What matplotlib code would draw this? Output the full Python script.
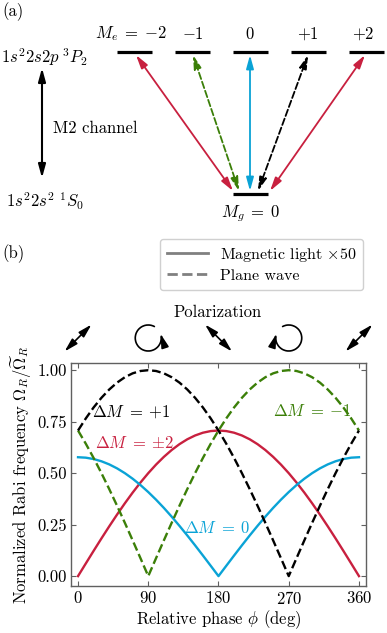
import numpy as np
import matplotlib
matplotlib.use('Agg')
import matplotlib.pyplot as plt
from matplotlib.patches import FancyArrowPatch
from matplotlib.path import Path
from matplotlib.lines import Line2D

plt.rcParams.update({
    'font.family': 'cmr10',
    'mathtext.fontset': 'cm',
    'axes.unicode_minus': False,
    'axes.formatter.use_mathtext': True,
    'font.size': 12,
})

# ---------------- data ----------------
phase_deg = [0, 10, 20, 30, 40, 50, 60, 70, 80, 90, 100, 110, 120, 130, 140, 150, 160, 170, 180,
             190, 200, 210, 220, 230, 240, 250, 260, 270, 280, 290, 300, 310, 320, 330, 340, 350, 360]
dm_pm2 = [0.0, .0616, .1228, .1830, .2418, .2988, .3536, .4056, .4545, .5000, .5417, .5792, .6124,
          .6409, .6645, .6830, .6964, .7044, .7071, .7044, .6964, .6830, .6645, .6409, .6124, .5792,
          .5417, .5000, .4545, .4056, .3536, .2988, .2418, .1830, .1228, .0616, 0.0]
dm_0 = [.5774, .5752, .5686, .5577, .5426, .5233, .5000, .4730, .4423, .4082, .3711, .3312, .2887,
        .2440, .1975, .1494, .1002, .0503, 0.0, .0503, .1002, .1494, .1975, .2440, .2887, .3312,
        .3711, .4082, .4423, .4730, .5000, .5233, .5426, .5577, .5686, .5752, .5774]
dm_p1 = [.7071, .7660, .8192, .8660, .9063, .9397, .9659, .9848, .9962, 1.0, .9962, .9848, .9659,
         .9397, .9063, .8660, .8192, .7660, .7071, .6428, .5736, .5000, .4226, .3420, .2588, .1736,
         .0872, 0.0, .0872, .1736, .2588, .3420, .4226, .5000, .5736, .6428, .7071]
dm_m1 = [.7071, .6428, .5736, .5000, .4226, .3420, .2588, .1736, .0872, 0.0, .0872, .1736, .2588,
         .3420, .4226, .5000, .5736, .6428, .7071, .7660, .8192, .8660, .9063, .9397, .9659, .9848,
         .9962, 1.0, .9962, .9848, .9659, .9397, .9063, .8660, .8192, .7660, .7071]
xticks = [0, 90, 180, 270, 360]
yticks = [0.0, 0.25, 0.50, 0.75, 1.00]
level_labels = [r'$M_e\;=\;{-}2$', r'${-}1$', r'$0$', r'${+}1$', r'${+}2$']
pol_phases = [0, 90, 180, 270, 360]
pol_kinds = ['lin+', 'ccw', 'lin-', 'cw', 'lin+']

RED = '#c8203f'
BLUE = '#0aa3d6'
GREEN = '#3b7f08'
BLACK = 'black'
SPINE = '#606060'

W, H = 387, 633
fig = plt.figure(figsize=(W / 100, H / 100), dpi=100)

# ---------------- panel (b) axes ----------------
ax = fig.add_axes([71 / W, 1 - 586 / H, (366 - 71) / W, (586 - 363) / H])
ax.plot(phase_deg, dm_pm2, color=RED, lw=1.7, zorder=3)
ax.plot(phase_deg, dm_0, color=BLUE, lw=1.7, zorder=3)
ax.plot(phase_deg, dm_m1, color=GREEN, lw=1.7, ls='--', zorder=4)
ax.plot(phase_deg, dm_p1, color=BLACK, lw=1.7, ls='--', zorder=5)
ax.set_xlim(-9, 369)
ax.set_ylim(-0.048, 1.035)
ax.set_xticks(xticks)
ax.set_yticks(yticks)
ax.set_yticklabels(['%.2f' % v for v in yticks])
ax.tick_params(direction='in', top=True, right=True, length=3.5, width=0.8, color=SPINE,
               pad=3)
for s in ax.spines.values():
    s.set_color(SPINE)
    s.set_linewidth(1.0)
ax.set_xlabel(r'Relative phase $\phi$ (deg)', labelpad=1)
ax.set_ylabel(r'Normalized Rabi frequency $\Omega_R/\widetilde{\Omega}_R$', labelpad=2)

ax.text(72, 0.645, r'$\Delta M\;=\;{\pm}2$', color=RED, ha='center', va='center')
ax.text(179, 0.235, r'$\Delta M\;=\;0$', color=BLUE, ha='center', va='center')
ax.text(68, 0.80, r'$\Delta M\;=\;{+}1$', color=BLACK, ha='center', va='center')
ax.text(300, 0.80, r'$\Delta M\;=\;{-}1$', color=GREEN, ha='center', va='center')

handles = [Line2D([], [], color='gray', lw=2, ls='-'),
           Line2D([], [], color='gray', lw=2, ls='--')]
ax.legend(handles, [r'Magnetic light $\times 50$', 'Plane wave'],
          loc='lower center', bbox_to_anchor=(261.5 / W, 1 - 290 / H),
          bbox_transform=fig.transFigure, handlelength=2.6, borderaxespad=0,
          framealpha=1, edgecolor='#d0d0d0', labelspacing=0.3, fontsize=11.5,
          borderpad=0.45, handletextpad=0.7)

# ---------------- overlay in pixel coordinates ----------------
ov = fig.add_axes([0, 0, 1, 1], facecolor='none')
ov.set_xlim(0, W)
ov.set_ylim(H, 0)
ov.axis('off')

ov.text(2, 12, '(a)', ha='left', va='center')
ov.text(2, 254, '(b)', ha='left', va='center')

# level diagram
level_x = [134.5, 192.5, 250.5, 308.5, 366]
label_x = [131, 193, 250, 308, 363]
y_top, y_gnd = 52, 194
for cx, lx, lab in zip(level_x, label_x, level_labels):
    ov.plot([cx - 17.5, cx + 17.5], [y_top, y_top], color='k', lw=2.3, solid_capstyle='butt')
    ov.text(lx, 34, lab, ha='center', va='center')
ov.plot([233, 268], [y_gnd, y_gnd], color='k', lw=2.3, solid_capstyle='butt')
ov.text(251, 214, r'$M_g\;=\;0$', ha='center', va='center')

HEAD = '<|-|>,head_length=0.8,head_width=0.22'


def darrow(p0, p1, color, ls='-', lw=1.3, ms=10):
    a = FancyArrowPatch(p0, p1, arrowstyle=HEAD, mutation_scale=ms, color=color, lw=lw,
                        linestyle=ls, shrinkA=0, shrinkB=0, zorder=3)
    ov.add_patch(a)

y_a1, y_a0 = 55, 191
darrow((233, y_a0), (136, y_a1), RED)
darrow((239, y_a0), (193, y_a1), GREEN, '--')
darrow((250, y_a0), (250, y_a1), BLUE)
darrow((258, y_a0), (308, y_a1), BLACK, '--')
darrow((270, y_a0), (365, y_a1), RED)

# left side labels
ov.text(1, 57, r'$1s^22s2p\;{}^3P_2$', ha='left', va='center')
ov.text(6, 201, r'$1s^22s^2\;{}^1S_0$', ha='left', va='center')
darrow((42, 68), (42, 178), 'k', lw=1.5)
ov.text(53, 128, 'M2 channel', ha='left', va='center')

# polarization icons
ov.text(218, 312, 'Polarization', ha='center', va='center')
y_icon = 338
for ph, kind in zip(pol_phases, pol_kinds):
    cx = ax.transData.transform((ph, 0))[0]
    if kind.startswith('lin'):
        sgn = 1 if kind == 'lin+' else -1
        d = 13.5
        a = FancyArrowPatch((cx - d, y_icon + sgn * d), (cx + d, y_icon - sgn * d),
                            arrowstyle=HEAD, mutation_scale=10, color='k', lw=1.2,
                            shrinkA=0, shrinkB=0)
        ov.add_patch(a)
    else:
        r = 13
        arc = Path.arc(62, 378)
        v = arc.vertices.copy()
        mirror = -1 if kind == 'cw' else 1
        v[:, 0] = cx + mirror * r * v[:, 0]
        v[:, 1] = y_icon - r * v[:, 1]
        p = Path(v, arc.codes)
        a = FancyArrowPatch(path=p, arrowstyle='-|>,head_length=0.8,head_width=0.22',
                            mutation_scale=10, color='k', lw=1.2)
        ov.add_patch(a)

fig.savefig('out.png', dpi=100)
